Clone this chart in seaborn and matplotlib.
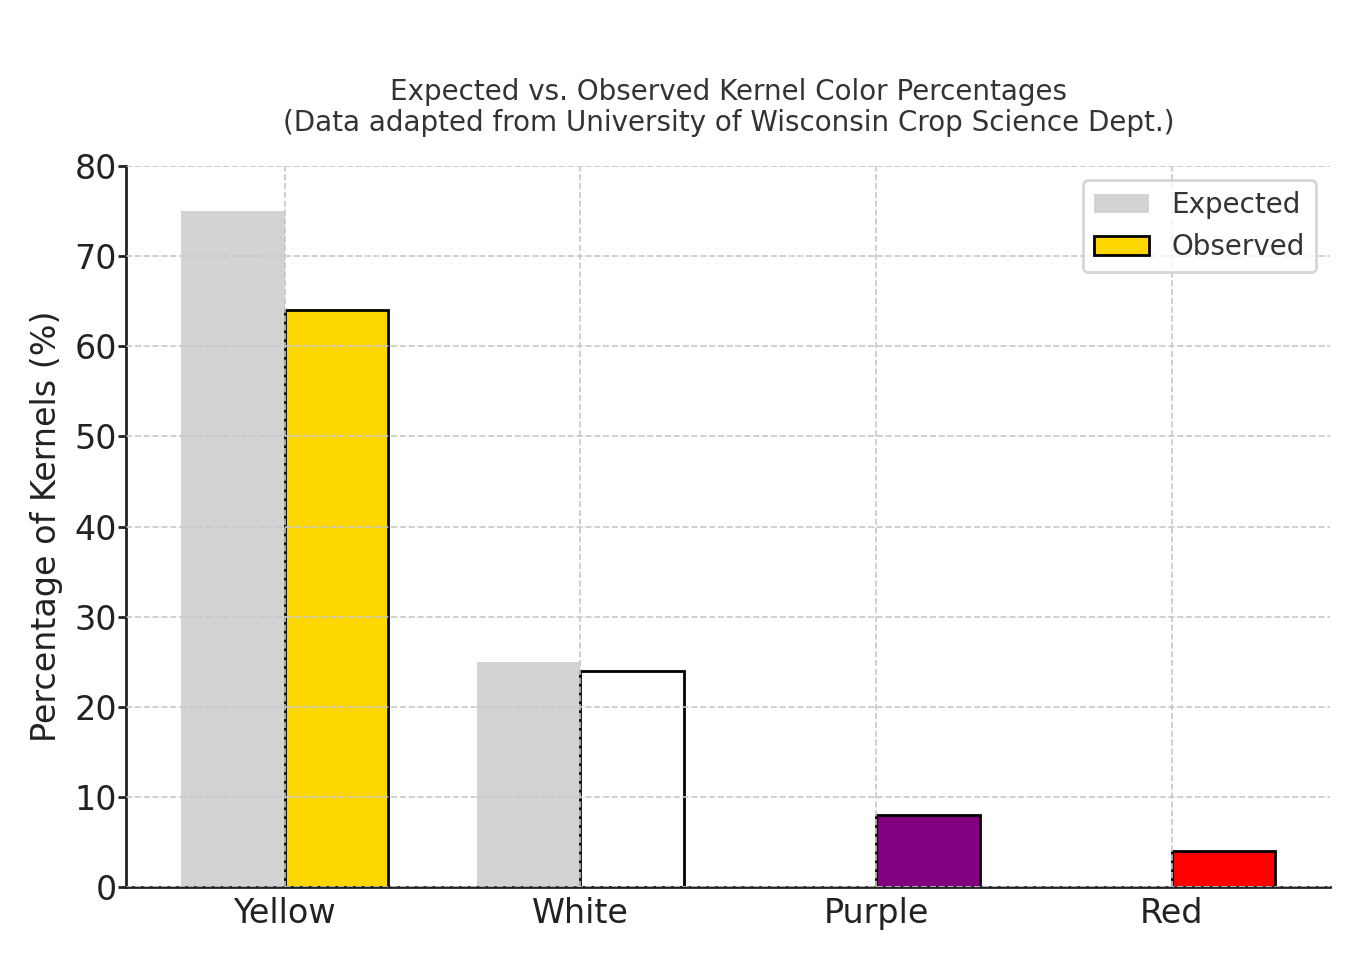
import matplotlib
matplotlib.use("Agg")
import matplotlib.pyplot as plt
import seaborn as sns
import pandas as pd
from matplotlib.patches import Patch

categories = ["Yellow", "White", "Purple", "Red"]
expected = [75, 25, 0, 0]
observed = [64, 24, 8, 4]
observed_colors = ["gold", "white", "purple", "red"]

df = pd.DataFrame({
    "Color": categories * 2,
    "Percentage": expected + observed,
    "Type": ["Expected"] * len(categories) + ["Observed"] * len(categories),
})

sns.set_theme(style="whitegrid")
plt.rcParams["font.family"] = ["DejaVu Sans"]

fig, ax = plt.subplots(figsize=(13.6, 9.6), dpi=100)
sns.barplot(data=df, x="Color", y="Percentage", hue="Type",
            palette={"Expected": "lightgray", "Observed": "gold"},
            width=0.7, ax=ax, legend=False, saturation=1)

exp_c, obs_c = ax.containers[0], ax.containers[1]
for p in exp_c:
    p.set_edgecolor("none")
    p.set_linewidth(0)
for p, c in zip(obs_c, observed_colors):
    p.set_facecolor(c)
    p.set_edgecolor("black")
    p.set_linewidth(2)

ax.set_ylim(0, 80)
ax.set_xlim(-0.535, 3.535)
ax.set_yticks(range(0, 81, 10))
ax.grid(True, linestyle="--", color="#c8c8c8", linewidth=1.2)
ax.set_axisbelow(False)
for s in ["top", "right"]:
    ax.spines[s].set_visible(False)
for s in ["left", "bottom"]:
    ax.spines[s].set_color("#222222")
    ax.spines[s].set_linewidth(2)
ax.tick_params(axis="y", left=True, length=6, width=2, color="#222222", labelsize=24,
               labelcolor="#222222", pad=1)
ax.tick_params(axis="x", bottom=False, labelsize=24, labelcolor="#222222", pad=1)
ax.set_xlabel("")
ax.set_ylabel("Percentage of Kernels (%)", fontsize=24, color="#222222", labelpad=8)
ax.set_title("Expected vs. Observed Kernel Color Percentages\n(Data adapted from University of Wisconsin Crop Science Dept.)",
             fontsize=20, color="#333333", pad=25, linespacing=1.15)

handles = [Patch(facecolor="lightgray", edgecolor="none", label="Expected"),
           Patch(facecolor="gold", edgecolor="black", linewidth=2, label="Observed")]
leg = ax.legend(handles=handles, loc="upper right", fontsize=20, frameon=True,
                borderpad=0.4, handlelength=2.0, borderaxespad=0,
                bbox_to_anchor=(0.9884, 0.9806))
for t in leg.get_texts():
    t.set_color("#333333")
leg.get_frame().set_edgecolor("#cccccc")
leg.get_frame().set_linewidth(2)

fig.subplots_adjust(left=0.093, right=0.978, top=0.827, bottom=0.076)
fig.savefig("out.png", dpi=100)
